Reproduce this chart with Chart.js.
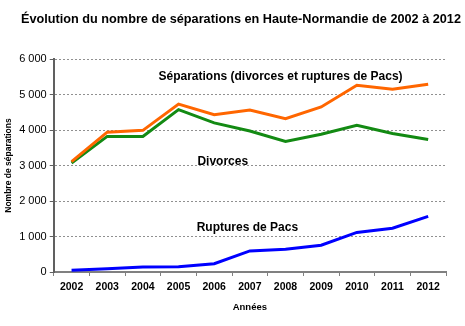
<!DOCTYPE html>
<html><head><meta charset="utf-8">
<script src="https://cdn.jsdelivr.net/npm/chart.js@4.4.0/dist/chart.umd.min.js"></script>
<style>html,body{margin:0;padding:0;background:#fff}#wrap{width:465px;height:326px}</style>
</head><body><div id="wrap"><canvas id="c" width="465" height="326"></canvas></div>
<script>
const years = ['2002','2003','2004','2005','2006','2007','2008','2009','2010','2011','2012'];
const separations = [3110,3940,3990,4730,4430,4560,4320,4650,5260,5150,5290];
const divorces = [3070,3820,3820,4575,4200,3970,3680,3880,4130,3900,3730];
const ruptures = [50,95,140,150,235,595,640,755,1115,1235,1565];
const seriesLabels = ['Séparations (divorces et ruptures de Pacs)','Divorces','Ruptures de Pacs'];
const titleText = 'Évolution du nombre de séparations en Haute-Normandie de 2002 à 2012';
const xTitle = 'Années';
const yTitle = 'Nombre de séparations';

// annotation anchors: [category index, value]
const annAnchors = [[5.86,5490],[4.24,3110],[4.93,1255]];

const annPlugin = {
  id:'ann',
  afterDraw(chart){
    const ctx = chart.ctx, xs = chart.scales.x, ys = chart.scales.y;
    ctx.save();
    ctx.fillStyle = '#000';
    ctx.font = 'bold 12px "Liberation Sans", Arial, sans-serif';
    ctx.textAlign = 'center'; ctx.textBaseline = 'middle';
    seriesLabels.forEach((t,i)=>{
      const a = annAnchors[i];
      ctx.fillText(t, xs.getPixelForValue(a[0]), ys.getPixelForValue(a[1]));
    });
    ctx.font = 'bold 12.7px "Liberation Sans", Arial, sans-serif';
    ctx.fillText(titleText, 241, 19);
    ctx.restore();
  }
};

new Chart(document.getElementById('c'), {
  type:'line',
  data:{ labels: years, datasets:[
    {label:seriesLabels[0], data:separations, borderColor:'#FF6600', borderWidth:3, pointRadius:0, tension:0},
    {label:seriesLabels[1], data:divorces, borderColor:'#138A13', borderWidth:3, pointRadius:0, tension:0},
    {label:seriesLabels[2], data:ruptures, borderColor:'#0000FF', borderWidth:3, pointRadius:0, tension:0}
  ]},
  options:{
    responsive:false, animation:false,
    layout:{padding:{top:59,left:4,right:19,bottom:13}},
    plugins:{legend:{display:false}, title:{display:false}, tooltip:{enabled:false}},
    scales:{
      x:{
        offset:true,
        grid:{offset:true, drawOnChartArea:false, drawTicks:true, tickLength:4, color:'#808080'},
        border:{color:'#808080', width:2},
        ticks:{color:'#000', font:{family:'"Liberation Sans", Arial, sans-serif', size:10.5, weight:'bold'}, maxRotation:0, autoSkip:false, padding:5},
        title:{display:true, text:xTitle, color:'#000', font:{family:'"Liberation Sans", Arial, sans-serif', size:9.5, weight:'bold'}, padding:{top:3,bottom:0}}
      },
      y:{
        min:0, max:6000,
        ticks:{stepSize:1000, color:'#000', font:{family:'"Liberation Sans", Arial, sans-serif', size:11}, padding:3,
          callback:(v)=> String(v).replace(/\B(?=(\d{3})+(?!\d))/g,' ')},
        grid:{color:(c)=> c.tick && c.tick.value===0 ? 'rgba(0,0,0,0)' : '#909090', tickColor:'#606060', tickLength:4, drawTicks:true},
        border:{color:'#606060', width:2, dash:[2,2]},
        title:{display:true, text:yTitle, color:'#000', font:{family:'"Liberation Sans", Arial, sans-serif', size:8.5, weight:'bold'}, padding:{top:0,bottom:2}}
      }
    }
  },
  plugins:[annPlugin]
});
</script></body></html>
